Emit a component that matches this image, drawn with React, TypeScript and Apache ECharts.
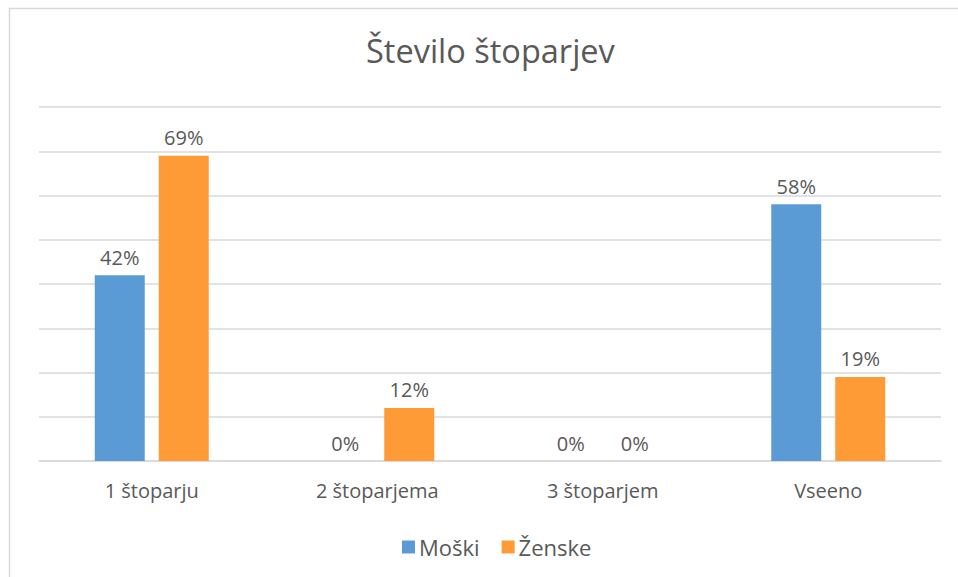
import React, { useEffect, useRef } from "react";
import * as echarts from "echarts";

const categories = ["1 štoparju", "2 štoparjema", "3 štoparjem", "Vseeno"];
const moski = [0.42, 0, 0, 0.58];
const zenske = [0.69, 0.12, 0, 0.19];
const seriesNames = ["Moški", "Ženske"];
const title = "Število štoparjev";

const FONT = "'Open Sans', 'Noto Sans', sans-serif";
const TXT = "#595959";

export default function App() {
  const ref = useRef<HTMLDivElement>(null);
  useEffect(() => {
    const chart = echarts.init(ref.current!, null, { renderer: "svg" });
    const label = {
      show: true,
      position: "top" as const,
      distance: 8,
      color: TXT,
      fontSize: 20,
      fontFamily: FONT,
      formatter: (p: any) => Math.round(p.value * 100) + "%",
    };
    chart.setOption({
      animation: false,
      backgroundColor: "#ffffff",
      title: {
        text: title,
        left: 361,
        top: 29,
        textStyle: { color: TXT, fontSize: 32.5, fontWeight: "normal", fontFamily: FONT },
      },
      graphic: [
        {
          type: "rect",
          shape: { x: 9.5, y: 8.5, width: 1000, height: 600 },
          style: { fill: "none", stroke: "#d9d9d9", lineWidth: 1.5 },
          silent: true,
        },
      ],
      legend: {
        data: seriesNames,
        left: 397,
        top: 531,
        icon: "rect",
        itemWidth: 13,
        itemHeight: 13,
        itemGap: 22,
        textStyle: { color: TXT, fontSize: 22, fontFamily: FONT, padding: [0, 0, 0, -1] },
      },
      grid: { left: 39, right: 17, top: 107, bottom: 116, containLabel: false },
      xAxis: {
        type: "category",
        data: categories,
        axisLine: { lineStyle: { color: "#d9d9d9", width: 1.5 } },
        axisTick: { show: false },
        axisLabel: { color: TXT, fontSize: 20, fontFamily: FONT, margin: 19 },
      },
      yAxis: {
        type: "value",
        min: 0,
        max: 0.8,
        interval: 0.1,
        axisLabel: { show: false },
        axisLine: { show: false },
        axisTick: { show: false },
        splitLine: { lineStyle: { color: "#d9d9d9", width: 1.5 } },
      },
      series: [
        {
          name: seriesNames[0],
          type: "bar",
          data: moski,
          barWidth: 50,
          barGap: "28%",
          itemStyle: { color: "#5B9BD5" },
          label,
        },
        {
          name: seriesNames[1],
          type: "bar",
          data: zenske,
          barWidth: 50,
          barGap: "28%",
          itemStyle: { color: "#FF9B37" },
          label,
        },
      ],
    });
    return () => chart.dispose();
  }, []);
  return (
    <div
      ref={ref}
      style={{ position: "fixed", left: 0, top: 0, width: 958, height: 577 }}
    />
  );
}
